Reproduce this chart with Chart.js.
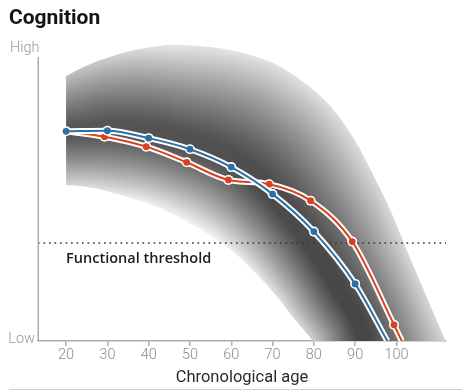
<!DOCTYPE html>
<html>
<head>
<meta charset="utf-8">
<script src="https://cdn.jsdelivr.net/npm/chart.js@4.4.1/dist/chart.umd.min.js"></script>
<style>
  html, body { margin: 0; padding: 0; background: #fff; }
</style>
</head>
<body>
<canvas id="cognition" width="462" height="392"></canvas>
<script>
// x axis
const ageTicks = [20, 30, 40, 50, 60, 70, 80, 90, 100];
const ageMin = 13.2;
const ageMax = 112;

// blue series (chronological age, cognition 0 = Low .. 100 = High)
const blueAges = [20, 30, 40, 50, 60, 70, 80, 90, 97.8];
const blueValues = [73.8, 74.0, 71.4, 67.5, 61.2, 51.7, 38.5, 20.1, 0];

// red series
const redAges = [20, 29.3, 39.4, 49.2, 59.3, 69.2, 79.2, 89.3, 99.4, 101.3];
const redValues = [73.8, 71.9, 68.4, 62.9, 56.7, 55.2, 49.4, 35.0, 5.7, 0];

// grey band: upper edge
const bandTopAges = [20, 26.5, 34.8, 42.7, 47.6, 54.8, 62.8, 71.0, 79.0, 85.0, 90.0, 94.0, 98.5, 102.5, 106.2, 109.3, 111.9];
const bandTopValues = [93.3, 97.9, 101.8, 103.9, 104.2, 103.5, 101.4, 97.2, 89.4, 81.0, 70.4, 59.5, 46.1, 32.0, 19.4, 8.8, 0];

// grey band: lower edge
const bandLowAges = [20, 26.5, 34.8, 42.7, 50.7, 59.0, 65.2, 71.1, 74.9, 79.0, 79.8];
const bandLowValues = [54.9, 53.9, 50.7, 46.8, 40.8, 33.1, 25.0, 15.5, 8.5, 1.4, 0];

const thresholdValue = 34.5;

const blueColor = '#2b6fa6';
const redColor = '#d8411f';

function toPoints(xs, ys) {
    return xs.map((a, i) => ({ x: a, y: ys[i] }));
}

// catmull-rom through the pixel points
function smoothPts(pts, steps) {
    const out = [];
    for (let i = 0; i < pts.length - 1; i++) {
        const p0 = pts[Math.max(i - 1, 0)];
        const p1 = pts[i];
        const p2 = pts[i + 1];
        const p3 = pts[Math.min(i + 2, pts.length - 1)];
        for (let k = 0; k < steps; k++) {
            const t = k / steps, t2 = t * t, t3 = t2 * t;
            const f = (a, b, c, d) => 0.5 * (2 * b + (-a + c) * t + (2 * a - 5 * b + 4 * c - d) * t2 + (-a + 3 * b - 3 * c + d) * t3);
            out.push({ x: f(p0.x, p1.x, p2.x, p3.x), y: f(p0.y, p1.y, p2.y, p3.y) });
        }
    }
    out.push(pts[pts.length - 1]);
    return out;
}

function resample(pts, n) {
    const d = [0];
    for (let i = 1; i < pts.length; i++) {
        d.push(d[i - 1] + Math.hypot(pts[i].x - pts[i - 1].x, pts[i].y - pts[i - 1].y));
    }
    const total = d[d.length - 1];
    const out = [];
    let j = 0;
    for (let k = 0; k < n; k++) {
        const target = total * k / (n - 1);
        while (j < pts.length - 2 && d[j + 1] < target) j++;
        const seg = (d[j + 1] - d[j]) || 1;
        const f = Math.min(1, Math.max(0, (target - d[j]) / seg));
        out.push({ x: pts[j].x + (pts[j + 1].x - pts[j].x) * f, y: pts[j].y + (pts[j + 1].y - pts[j].y) * f });
    }
    return out;
}

// distance from q to polyline P, plus position along it (0..1)
function nearest(P, qx, qy) {
    let best = Infinity, bs = 0;
    for (let i = 0; i < P.length - 1; i++) {
        const ax = P[i].x, ay = P[i].y;
        const dx = P[i + 1].x - ax, dy = P[i + 1].y - ay;
        const len2 = dx * dx + dy * dy || 1;
        let f = ((qx - ax) * dx + (qy - ay) * dy) / len2;
        f = f < 0 ? 0 : f > 1 ? 1 : f;
        const ex = ax + dx * f - qx, ey = ay + dy * f - qy;
        const d2 = ex * ex + ey * ey;
        if (d2 < best) { best = d2; bs = i + f; }
    }
    return [Math.sqrt(best), bs / (P.length - 1)];
}

function lerpStops(stops, t) {
    if (t <= stops[0][0]) return stops[0][1];
    for (let i = 1; i < stops.length; i++) {
        if (t <= stops[i][0]) {
            const [t0, g0] = stops[i - 1];
            const [t1, g1] = stops[i];
            return g0 + (g1 - g0) * (t - t0) / (t1 - t0);
        }
    }
    return stops[stops.length - 1][1];
}

// grey levels along each edge (s = 0 left .. 1 at the axis) and in the core
const topEdgeGrey = [[0, 190], [0.2, 230], [0.45, 224], [0.7, 216], [1, 214]];
const lowEdgeGrey = [[0, 212], [0.25, 238], [0.5, 244], [0.8, 224], [1, 208]];
const coreGrey = [[0, 86], [0.5, 78], [1, 70]];
// dark core follows the two lines
const coreMid = [[0, 0.5], [0.25, 0.57], [1, 0.6]];
const coreHalf = 0.045;

function shadeAt(t, sU, sL) {
    const s = (sU + sL) / 2;
    const c = lerpStops(coreGrey, s);
    const m = lerpStops(coreMid, s);
    const a = m - coreHalf, b = m + coreHalf;
    if (t < a) {
        const e = lerpStops(topEdgeGrey, sU);
        return c + (e - c) * Math.pow((a - t) / a, 1.15);
    }
    if (t > b) {
        const e = lerpStops(lowEdgeGrey, sL);
        return c + (e - c) * Math.pow((t - b) / (1 - b), 1.15);
    }
    return c;
}

const bandShade = {
    id: 'bandShade',
    beforeDatasetsDraw(chart) {
        const n = 100;
        const U = resample(smoothPts(chart.getDatasetMeta(5).data.map(p => ({ x: p.x, y: p.y })), 10), n);
        const L = resample(smoothPts(chart.getDatasetMeta(6).data.map(p => ({ x: p.x, y: p.y })), 10), n);
        const all = U.concat(L);
        const x0 = Math.floor(Math.min(...all.map(p => p.x))) - 1;
        const x1 = Math.ceil(Math.max(...all.map(p => p.x))) + 1;
        const y0 = Math.floor(Math.min(...all.map(p => p.y))) - 1;
        const y1 = Math.ceil(Math.max(...all.map(p => p.y))) + 1;
        const w = x1 - x0, h = y1 - y0;

        const off = document.createElement('canvas');
        off.width = w;
        off.height = h;
        const octx = off.getContext('2d');
        const img = octx.createImageData(w, h);
        for (let py = 0; py < h; py++) {
            for (let px = 0; px < w; px++) {
                const qx = x0 + px + 0.5, qy = y0 + py + 0.5;
                const [dU, sU] = nearest(U, qx, qy);
                const [dL, sL] = nearest(L, qx, qy);
                const g = Math.round(shadeAt(dU / (dU + dL || 1), sU, sL));
                const o = (py * w + px) * 4;
                img.data[o] = g;
                img.data[o + 1] = g;
                img.data[o + 2] = g;
                img.data[o + 3] = 255;
            }
        }
        octx.putImageData(img, 0, 0);

        const ctx = chart.ctx;
        ctx.save();
        ctx.beginPath();
        U.forEach((p, i) => i ? ctx.lineTo(p.x, p.y) : ctx.moveTo(p.x, p.y));
        for (let i = L.length - 1; i >= 0; i--) ctx.lineTo(L[i].x, L[i].y);
        ctx.closePath();
        ctx.clip();
        ctx.drawImage(off, x0, y0);
        ctx.restore();
    }
};

const extraText = {
    id: 'extraText',
    afterDraw(chart) {
        const { ctx, scales } = chart;
        const x = scales.x, y = scales.y;
        ctx.save();

        // y axis line
        ctx.strokeStyle = '#adadad';
        ctx.lineWidth = 1.5;
        ctx.beginPath();
        ctx.moveTo(x.left + 0.25, y.getPixelForValue(100));
        ctx.lineTo(x.left + 0.25, y.getPixelForValue(0));
        ctx.stroke();

        // bottom rule
        ctx.strokeStyle = '#cfcfcf';
        ctx.lineWidth = 1;
        ctx.beginPath();
        ctx.moveTo(9, 389.5);
        ctx.lineTo(462, 389.5);
        ctx.stroke();

        ctx.textBaseline = 'alphabetic';
        ctx.fillStyle = '#141414';
        ctx.font = 'bold 21px Roboto';
        ctx.textAlign = 'left';
        ctx.fillText('Cognition', 9, 24);

        ctx.fillStyle = '#999';
        ctx.font = '300 14.5px Roboto';
        ctx.fillText('High', 10, 52);
        ctx.textAlign = 'right';
        ctx.fillText('Low', 35, 342.5);

        ctx.textAlign = 'left';
        ctx.fillStyle = '#1c1c1c';
        ctx.font = '600 14.5px "Open Sans"';
        ctx.fillText('Functional threshold', x.getPixelForValue(20), y.getPixelForValue(thresholdValue) + 19.7);
        ctx.restore();
    }
};

const ctx = document.getElementById('cognition');

new Chart(ctx, {
    type: 'line',
    data: {
        datasets: [
            {
                label: 'blue',
                data: toPoints(blueAges, blueValues),
                borderColor: blueColor,
                borderWidth: 2,
                pointRadius: blueAges.map((a, i) => i < blueAges.length - 1 ? 3.4 : 0),
                pointBackgroundColor: blueColor,
                pointBorderWidth: 0,
                cubicInterpolationMode: 'monotone',
                order: 1
            },
            {
                label: 'blue halo',
                data: toPoints(blueAges, blueValues),
                borderColor: '#fff',
                borderWidth: 6,
                pointRadius: blueAges.map((a, i) => i < blueAges.length - 1 ? 5 : 0),
                pointBackgroundColor: '#fff',
                pointBorderWidth: 0,
                cubicInterpolationMode: 'monotone',
                order: 2
            },
            {
                label: 'red',
                data: toPoints(redAges, redValues),
                borderColor: redColor,
                borderWidth: 2,
                pointRadius: redAges.map((a, i) => i > 0 && i < redAges.length - 1 ? 3.4 : 0),
                pointBackgroundColor: redColor,
                pointBorderWidth: 0,
                cubicInterpolationMode: 'monotone',
                order: 3
            },
            {
                label: 'red halo',
                data: toPoints(redAges, redValues),
                borderColor: '#fff',
                borderWidth: 6,
                pointRadius: redAges.map((a, i) => i > 0 && i < redAges.length - 1 ? 5 : 0),
                pointBackgroundColor: '#fff',
                pointBorderWidth: 0,
                cubicInterpolationMode: 'monotone',
                order: 4
            },
            {
                label: 'threshold',
                data: [{ x: ageMin, y: thresholdValue }, { x: ageMax, y: thresholdValue }],
                borderColor: '#3a3a3a',
                borderWidth: 1.7,
                borderDash: [1.7, 3.8],
                pointRadius: 0,
                order: 5
            },
            {
                label: 'band top',
                data: toPoints(bandTopAges, bandTopValues),
                showLine: false,
                pointRadius: 0,
                order: 6
            },
            {
                label: 'band low',
                data: toPoints(bandLowAges, bandLowValues),
                showLine: false,
                pointRadius: 0,
                order: 7
            }
        ]
    },
    options: {
        responsive: false,
        animation: false,
        events: [],
        layout: { padding: { top: 37, right: 16, left: 0, bottom: 0 } },
        plugins: {
            legend: { display: false },
            tooltip: { enabled: false }
        },
        scales: {
            x: {
                type: 'linear',
                min: ageMin,
                max: ageMax,
                afterBuildTicks: scale => {
                    scale.ticks = ageTicks.map(v => ({ value: v }));
                },
                afterFit: scale => { scale.height = 51; },
                grid: {
                    drawOnChartArea: false,
                    drawTicks: true,
                    tickLength: 5,
                    color: '#adadad',
                    lineWidth: 1.5
                },
                border: { color: '#adadad', width: 1.5 },
                ticks: {
                    color: '#8c8c8c',
                    padding: 1,
                    maxRotation: 0,
                    autoSkip: false,
                    font: { family: 'Roboto', size: 14.5, weight: '300' }
                },
                title: {
                    display: true,
                    text: 'Chronological age',
                    color: '#2a2a2a',
                    padding: { top: 0, bottom: 4.5 },
                    font: { family: 'Roboto', size: 16.5, weight: '400' }
                }
            },
            y: {
                type: 'linear',
                min: 0,
                max: 107,
                afterFit: scale => { scale.width = 38; },
                grid: { display: false },
                border: { display: false },
                ticks: { display: false }
            }
        }
    },
    plugins: [bandShade, extraText]
});
</script>
</body>
</html>
